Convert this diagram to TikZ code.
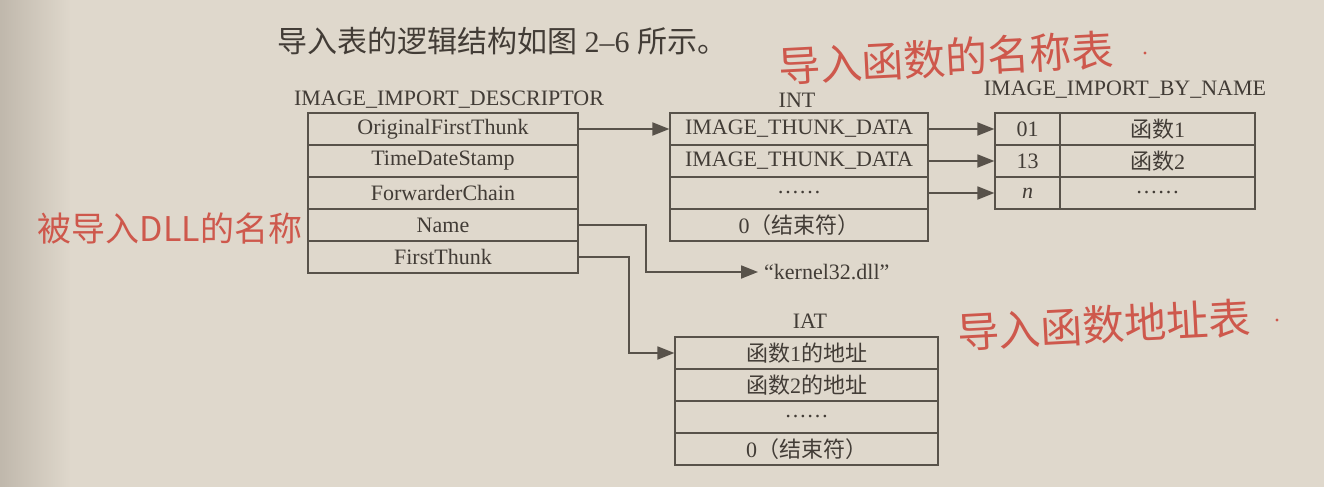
\documentclass[tikz,border=0pt]{standalone}
\usepackage{fontspec}
\setmainfont{Liberation Serif}
\newfontfamily\cjk{Noto Sans CJK SC}
\usetikzlibrary{arrows.meta,fadings}

\definecolor{paper}{RGB}{223,216,204}
\definecolor{paperdark}{RGB}{192,184,172}
\definecolor{ink}{RGB}{66,60,54}
\definecolor{rulec}{RGB}{88,82,74}
\definecolor{pen}{RGB}{206,88,76}

\begin{document}
\begin{tikzpicture}[x=1pt,y=-1pt,
  every node/.style={text=ink},
  txt/.style={font=\fontsize{22}{26}\selectfont, inner sep=0pt},
  cell/.style={txt, draw=rulec, line width=1.2pt, minimum height=32pt, anchor=center},
  dcell/.style={cell, minimum width=270pt},
  icell/.style={cell, minimum width=258pt},
  ncell/.style={cell, minimum width=65pt},
  fcell/.style={cell, minimum width=195pt},
  acell/.style={cell, minimum width=263pt},
  ptr/.style={draw=rulec, line width=1.8pt, -{Triangle[length=17pt,width=13pt]}},
  hand/.style={text=pen, inner sep=0pt},
]
% page
\useasboundingbox (0,0) rectangle (1324,487);
\fill[paper] (0,0) rectangle (1324,487);
\fill[paperdark, path fading=east] (0,0) rectangle (70,487);

% heading line of the page
\node[inner sep=0pt, anchor=west, font=\fontsize{30}{34}\selectfont] (head) at (277,41)
  {{\cjk 导入表的逻辑结构如图} 2–6 {\cjk 所示。}};

% IMAGE_IMPORT_DESCRIPTOR
\node[txt] (dlab) at (449,100) {IMAGE\_IMPORT\_DESCRIPTOR};
\node[dcell] (d1) at (443,129) {OriginalFirstThunk};
\node[dcell] (d2) at (443,161) {TimeDateStamp};
\node[dcell] (d3) at (443,193) {ForwarderChain};
\node[dcell] (d4) at (443,225) {Name};
\node[dcell] (d5) at (443,257) {FirstThunk};

% INT
\node[txt] (ilab) at (797,100) {INT};
\node[icell] (i1) at (799,129) {IMAGE\_THUNK\_DATA};
\node[icell] (i2) at (799,161) {IMAGE\_THUNK\_DATA};
\node[icell] (i3) at (799,193) {……};
\node[icell] (i4) at (799,225) {0{\cjk （结束符）}};

% IMAGE_IMPORT_BY_NAME
\node[txt] (nlab) at (1125,90) {IMAGE\_IMPORT\_BY\_NAME};
\node[ncell] (n1) at (1027.5,129) {01};
\node[ncell] (n2) at (1027.5,161) {13};
\node[ncell] (n3) at (1027.5,193) {\textit{n}};
\node[fcell] (f1) at (1157.5,129) {{\cjk 函数}1};
\node[fcell] (f2) at (1157.5,161) {{\cjk 函数}2};
\node[fcell] (f3) at (1157.5,193) {……};

% DLL name string
\node[txt, anchor=west] (kern) at (764,272) {“kernel32.dll”};

% IAT
\node[txt] (alab) at (810,321) {IAT};
\node[acell] (a1) at (806.5,353) {{\cjk 函数}1{\cjk 的地址}};
\node[acell] (a2) at (806.5,385) {{\cjk 函数}2{\cjk 的地址}};
\node[acell] (a3) at (806.5,417) {……};
\node[acell] (a4) at (806.5,449) {0{\cjk （结束符）}};

% pointers
\draw[ptr] (d1.east) -- (i1.west);
\draw[ptr] (i1.east) -- (n1.west);
\draw[ptr] (i2.east) -- (n2.west);
\draw[ptr] (i3.east) -- (n3.west);
\draw[ptr, shorten >=6pt] (d4.east) -- ++(67,0) |- (kern.west);
\draw[ptr] (d5.east) -- ++(50,0) |- (a1.west);

% red pen notes
\node[hand, rotate=3, font=\cjk\fontsize{42}{46}\selectfont] (note1) at (946,58) {导入函数的名称表};
\fill[pen] (1145,53) circle (1.6);
\node[hand, font=\cjk\fontsize{34}{38}\selectfont] (note2) at (170,229) {被导入DLL的名称};
\node[hand, rotate=3, font=\cjk\fontsize{42}{46}\selectfont] (note3) at (1104,325) {导入函数地址表};
\fill[pen] (1277,320) circle (1.6);
\end{tikzpicture}
\end{document}
